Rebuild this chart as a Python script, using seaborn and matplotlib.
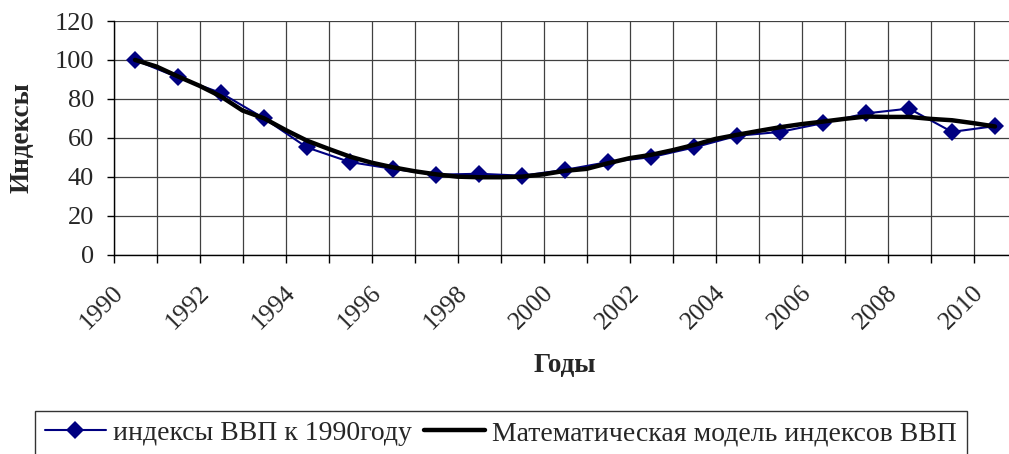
import matplotlib
matplotlib.use('Agg')
import matplotlib.pyplot as plt
import matplotlib.transforms as mtransforms
import seaborn as sns

# data
years = list(range(1990, 2011))
gdp_index = [100, 91, 83, 70, 55, 47.5, 44, 41, 41.5, 40.5, 43.5,
             47.5, 50, 55, 61, 63, 67.5, 72.5, 75, 63, 66]

model_years = [1990, 1990.5, 1991, 1991.5, 1992, 1992.5, 1993, 1993.5, 1994, 1994.5,
               1995, 1995.5, 1996, 1996.5, 1997, 1997.5, 1998, 1998.5, 1999, 1999.5,
               2000, 2000.5, 2001, 2001.5, 2002, 2002.5, 2003, 2003.5, 2004, 2004.5,
               2005, 2005.5, 2006, 2006.5, 2007, 2007.5, 2008, 2008.5, 2009, 2009.5, 2010]
model_vals = [100, 96.6, 91.5, 86.7, 81.2, 74, 70, 64, 58.5, 54.3,
              50.3, 47.2, 44.8, 42.8, 41.2, 40, 39.7, 39.7, 40, 41.2,
              43, 44, 46.9, 49.5, 51.2, 53.6, 56.3, 59.4, 61.5, 63.5,
              65.4, 67, 68.3, 69.7, 70.9, 70.7, 70.7, 69.7, 69, 67.5, 65.8]

year_labels = years[::2]
y_ticks = [0, 20, 40, 60, 80, 100, 120]

label_data = "индексы ВВП к 1990году"
label_model = "Математическая модель индексов ВВП"

sns.set_style("white")
plt.rcParams['font.family'] = ['Liberation Serif', 'DejaVu Serif']

fig = plt.figure(figsize=(10.09, 4.54), dpi=100)
# axes runs a bit past the right edge, like the cropped original
ax = fig.add_axes([113.5 / 1009, 199.5 / 454, 903 / 1009, 233.5 / 454])

sns.lineplot(x=years, y=gdp_index, ax=ax, color='#000080', lw=1.5,
             marker='D', markersize=9, markeredgewidth=0, label=label_data, zorder=3)
sns.lineplot(x=model_years, y=model_vals, ax=ax, color='black', lw=3.2,
             label=label_model, zorder=4)

ax.set_xlim(1989.5, 2010.5)
ax.set_ylim(0, 120)

# category boundaries -> grid + tick marks
bounds = [y - 0.5 for y in years] + [years[-1] + 0.5]
ax.set_xticks(bounds, minor=True)
ax.set_xticks(year_labels)
ax.set_xticklabels([str(y) for y in year_labels], rotation=45, fontsize=18.5)
ax.set_yticks(y_ticks)
ax.set_yticklabels([str(v) for v in y_ticks], fontsize=19)

ax.tick_params(axis='x', which='major', length=0, pad=38)
ax.tick_params(axis='x', which='minor', length=6, width=1, color='black', direction='out', bottom=True)
ax.tick_params(axis='y', which='major', length=5, width=1, color='black', direction='out', pad=9, left=True)

shift = mtransforms.ScaledTranslation(-0.33, 0, fig.dpi_scale_trans)
for lbl in ax.get_xticklabels():
    lbl.set_ha('center')
    lbl.set_va('center')
    lbl.set_transform(lbl.get_transform() + shift)

ax.grid(False)
ax.grid(which='minor', axis='x', color='#404040', lw=0.9)
ax.grid(which='major', axis='y', color='#404040', lw=0.9)
ax.set_axisbelow(True)

for side in ['top', 'right']:
    ax.spines[side].set_visible(False)
for side in ['left', 'bottom']:
    ax.spines[side].set_color('black')
    ax.spines[side].set_linewidth(1)

ax.set_ylabel("Индексы", fontsize=19.5, fontweight='bold', va='center')
ax.yaxis.set_label_coords(-0.1013, 0.5)
ax.set_xlabel("Годы", fontsize=19.5, fontweight='bold', va='center')
ax.xaxis.set_label_coords(0.5, -0.4775)

ax.legend(loc='upper left', bbox_to_anchor=(35 / 1009, 1 - 411 / 454),
          bbox_transform=fig.transFigure, ncol=2, fontsize=20, frameon=True,
          fancybox=False, edgecolor='black', borderaxespad=0, handlelength=2.2,
          handletextpad=0.25, columnspacing=0.45, borderpad=0.35)
leg = ax.get_legend()
leg.get_frame().set_linewidth(1)

plt.savefig("out.png", dpi=100)
plt.close(fig)
